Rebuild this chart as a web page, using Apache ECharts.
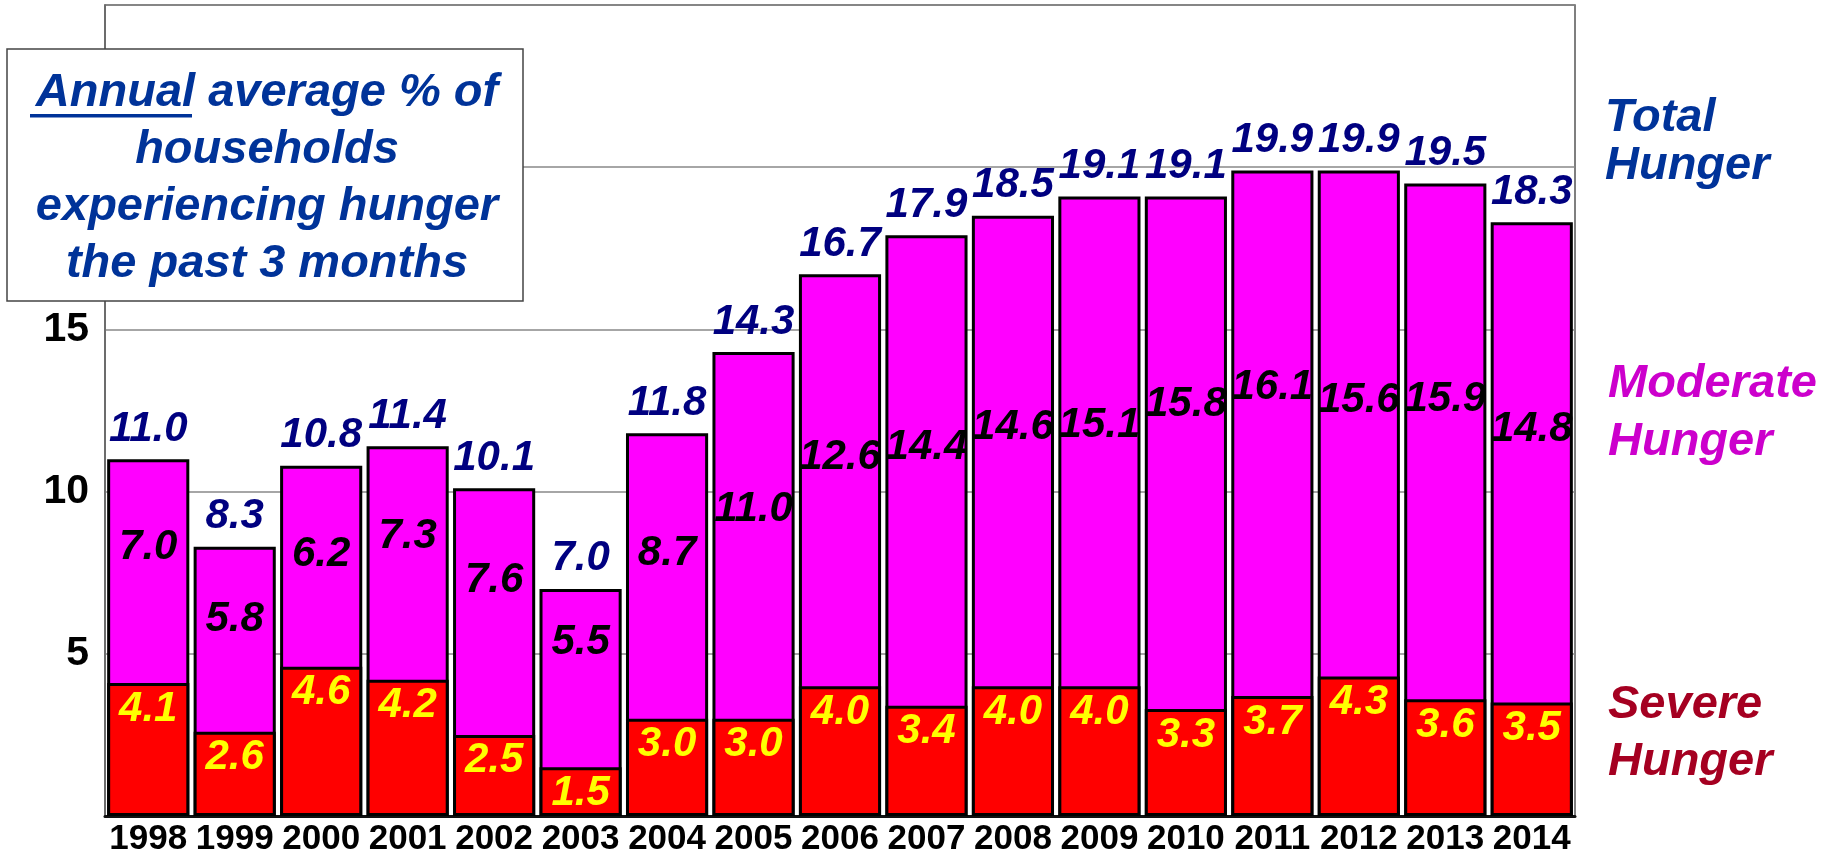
<!DOCTYPE html>
<html><head><meta charset="utf-8">
<script src="https://cdn.jsdelivr.net/npm/echarts@6/dist/echarts.min.js"></script>
<style>html,body{margin:0;padding:0;background:#fff}#c{width:1822px;height:857px}</style>
</head><body><div id="c"></div>
<script>
// ---- data ----
const years = ['1998','1999','2000','2001','2002','2003','2004','2005','2006','2007','2008','2009','2010','2011','2012','2013','2014'];
const severe = [4.1, 2.6, 4.6, 4.2, 2.5, 1.5, 3.0, 3.0, 4.0, 3.4, 4.0, 4.0, 3.3, 3.7, 4.3, 3.6, 3.5];
const moderate = [7.0, 5.8, 6.2, 7.3, 7.6, 5.5, 8.7, 11.0, 12.6, 14.4, 14.6, 15.1, 15.8, 16.1, 15.6, 15.9, 14.8];
const total = [11.0, 8.3, 10.8, 11.4, 10.1, 7.0, 11.8, 14.3, 16.7, 17.9, 18.5, 19.1, 19.1, 19.9, 19.9, 19.5, 18.3];
const yTickLabels = [5, 10, 15];
const titleLines = ['Annual average % of', 'households', 'experiencing hunger', 'the past 3 months'];

// ---- layout / style (not data) ----
const FF = "'Liberation Sans', Arial, Helvetica, sans-serif";
const modLabelLift = [24,20,12,27,31,36,23,26,23,23,24,16,48,46,23,42,33];
const fmt = v => v.toFixed(1);

const chart = echarts.init(document.getElementById('c'), null, {renderer: 'canvas'});
const upper = total.map((t, i) => +(t - severe[i]).toFixed(2));

chart.setOption({
  animation: false,
  backgroundColor: '#fff',
  grid: {left: 105, right: 247, top: 5, bottom: 37, show: true, borderColor: '#555', borderWidth: 1.5, backgroundColor: 'transparent'},
  xAxis: {
    type: 'category', data: years,
    axisLine: {lineStyle: {color: '#111', width: 3}},
    axisTick: {show: false},
    axisLabel: {color: '#000', fontFamily: FF, fontWeight: 'bold', fontSize: 35, margin: 6, interval: 0}
  },
  yAxis: {
    type: 'value', min: 0, max: 25, interval: 5,
    axisLine: {show: true, lineStyle: {color: '#666', width: 1.5}},
    axisTick: {show: false},
    splitLine: {lineStyle: {color: '#888', width: 1.5}},
    axisLabel: {color: '#000', fontFamily: FF, fontWeight: 'bold', fontSize: 41, margin: 16,
      formatter: v => yTickLabels.indexOf(v) >= 0 ? String(v) : ''}
  },
  series: [
    {
      name: 'Total', type: 'bar', data: total, barGap: '-100%', barCategoryGap: '5%',
      itemStyle: {color: '#FF00FF', borderColor: '#000', borderWidth: 3},
      label: {show: true, position: 'top', distance: 9, formatter: p => fmt(p.value),
        color: '#000080', fontFamily: FF, fontWeight: 'bold', fontStyle: 'italic', fontSize: 42},
      z: 2
    },
    {
      name: 'Severe', type: 'bar', stack: 's', data: severe, barGap: '-100%', barCategoryGap: '5%',
      itemStyle: {color: '#FF0000', borderColor: '#000', borderWidth: 3},
      label: {show: true, position: 'insideTop', distance: 5, formatter: p => fmt(p.value),
        color: '#FFFF00', fontFamily: FF, fontWeight: 'bold', fontStyle: 'italic', fontSize: 42},
      z: 3
    },
    {
      name: 'Moderate', type: 'bar', stack: 's', barGap: '-100%', barCategoryGap: '5%',
      data: upper.map((v, i) => ({value: v, label: {offset: [0, -modLabelLift[i]]}})),
      itemStyle: {color: 'rgba(0,0,0,0)', borderWidth: 0},
      label: {show: true, position: 'inside', formatter: p => fmt(moderate[p.dataIndex]),
        color: '#000', fontFamily: FF, fontWeight: 'bold', fontStyle: 'italic', fontSize: 42},
      z: 4
    }
  ],
  graphic: [
    {type: 'rect', z: 100, shape: {x: 7, y: 49, width: 516, height: 252},
      style: {fill: '#fff', stroke: '#444', lineWidth: 1.5}},
    {type: 'text', z: 101, x: 267, y: 179,
      style: {text: titleLines.join('\n'), fill: '#003399', font: 'italic bold 47px ' + FF,
        align: 'center', verticalAlign: 'middle', lineHeight: 57}},
    {type: 'rect', z: 101, shape: {x: 30, y: 114, width: 162, height: 3.5}, style: {fill: '#003399'}},
    {type: 'text', z: 101, x: 1605, y: 118, style: {text: 'Total', fill: '#003399', font: 'italic bold 47px ' + FF, verticalAlign: 'middle'}},
    {type: 'text', z: 101, x: 1605, y: 166, style: {text: 'Hunger', fill: '#003399', font: 'italic bold 47px ' + FF, verticalAlign: 'middle'}},
    {type: 'text', z: 101, x: 1608, y: 384, style: {text: 'Moderate', fill: '#CC00CC', font: 'italic bold 47px ' + FF, verticalAlign: 'middle'}},
    {type: 'text', z: 101, x: 1608, y: 442, style: {text: 'Hunger', fill: '#CC00CC', font: 'italic bold 47px ' + FF, verticalAlign: 'middle'}},
    {type: 'text', z: 101, x: 1608, y: 705, style: {text: 'Severe', fill: '#A50021', font: 'italic bold 47px ' + FF, verticalAlign: 'middle'}},
    {type: 'text', z: 101, x: 1608, y: 762, style: {text: 'Hunger', fill: '#A50021', font: 'italic bold 47px ' + FF, verticalAlign: 'middle'}}
  ]
});
</script>
</body></html>
